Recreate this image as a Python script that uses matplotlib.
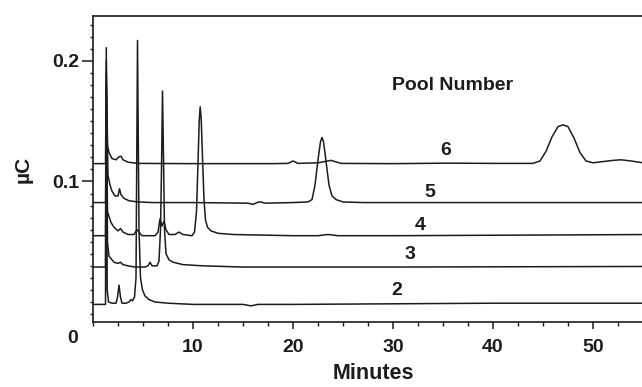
import matplotlib
matplotlib.use("Agg")
import matplotlib.pyplot as plt
from matplotlib.ticker import MultipleLocator, FixedLocator

plt.rcParams['font.family'] = ['Liberation Sans', 'DejaVu Sans']
plt.rcParams['font.weight'] = 'bold'

# ---- data (time in minutes, signal in µC) ----
t_pool2 = [0, 1.25, 1.33, 1.42, 1.55, 1.9, 2.3, 2.45, 2.6, 2.75, 2.9, 3.3, 3.6, 3.8, 3.95,
           4.15, 4.3, 4.45, 4.6, 4.75, 4.95, 5.2, 5.6, 6.2, 7.5, 10, 15, 15.8, 16.5, 20,
           30, 40, 50, 56]
y_pool2 = [-0.002, -0.002, 0.211, 0.010, 0.000, -0.001, -0.001, 0.004, 0.014, 0.004, -0.001,
           -0.001, 0.000, 0.002, 0.001, 0.004, 0.020, 0.217, 0.060, 0.020, 0.010, 0.005,
           0.002, 0.000, -0.001, -0.002, -0.002, -0.0032, -0.002, -0.002, -0.0015, -0.001,
           -0.001, -0.001]

t_pool3 = [0, 1.25, 1.33, 1.45, 1.6, 1.8, 2.1, 2.5, 2.75, 3.0, 3.5, 4.2, 5.2, 5.5, 5.7,
           5.9, 6.4, 6.6, 6.75, 6.85, 6.95, 7.05, 7.15, 7.3, 7.6, 8.0, 9.0, 11, 15, 20,
           30, 56]
y_pool3 = [0.029, 0.029, 0.190, 0.050, 0.038, 0.036, 0.033, 0.032, 0.033, 0.031, 0.030,
           0.029, 0.029, 0.030, 0.033, 0.030, 0.030, 0.034, 0.060, 0.110, 0.175, 0.120,
           0.060, 0.040, 0.035, 0.033, 0.031, 0.030, 0.029, 0.029, 0.029, 0.0295]

t_pool4 = [0, 1.25, 1.33, 1.45, 1.6, 1.8, 2.1, 2.5, 2.75, 3.0, 3.5, 4.1, 4.4, 4.6, 4.9,
           5.5, 6.2, 6.5, 6.7, 6.9, 7.1, 7.3, 7.6, 8.2, 8.6, 9.0, 9.9, 10.15, 10.35, 10.5,
           10.62, 10.72, 10.82, 10.95, 11.1, 11.25, 11.45, 11.8, 12.5, 14, 20, 22.5, 23.5,
           24.5, 30, 56]
y_pool4 = [0.055, 0.055, 0.170, 0.075, 0.071, 0.066, 0.062, 0.059, 0.061, 0.058, 0.056,
           0.056, 0.060, 0.058, 0.055, 0.055, 0.055, 0.058, 0.069, 0.063, 0.067, 0.060,
           0.056, 0.056, 0.058, 0.056, 0.055, 0.058, 0.075, 0.115, 0.150, 0.162, 0.152,
           0.120, 0.085, 0.068, 0.062, 0.059, 0.057, 0.056, 0.055, 0.055, 0.056, 0.055,
           0.055, 0.056]

t_pool5 = [0, 1.25, 1.33, 1.5, 1.7, 1.9, 2.2, 2.5, 2.65, 2.8, 3.1, 3.6, 4.5, 6, 10, 15.5,
           16.0, 16.5, 16.8, 17.2, 20, 21.5, 21.9, 22.2, 22.5, 22.75, 22.9, 23.05, 23.3,
           23.6, 23.9, 24.3, 25, 27, 56]
y_pool5 = [0.0825, 0.0825, 0.180, 0.105, 0.097, 0.092, 0.088, 0.088, 0.094, 0.089, 0.086,
           0.084, 0.083, 0.0825, 0.0825, 0.082, 0.081, 0.0828, 0.083, 0.082, 0.0825, 0.083,
           0.085, 0.097, 0.118, 0.133, 0.1365, 0.133, 0.117, 0.097, 0.088, 0.085, 0.083,
           0.0825, 0.0825]

t_pool6 = [0, 1.25, 1.33, 1.45, 1.6, 1.9, 2.3, 2.6, 2.8, 3.0, 3.5, 4.5, 10, 18, 19.5, 20.0,
           20.5, 22.5, 23.8, 24.8, 30, 35.5, 40, 44, 44.7, 45.3, 45.9, 46.5, 47.0, 47.5,
           48.1, 48.7, 49.3, 50, 51, 52, 52.8, 53.8, 55, 56]
y_pool6 = [0.1148, 0.1148, 0.200, 0.130, 0.124, 0.119, 0.118, 0.1205, 0.121, 0.118, 0.116,
           0.115, 0.1148, 0.1148, 0.115, 0.117, 0.115, 0.1155, 0.1175, 0.115, 0.1148,
           0.1152, 0.115, 0.115, 0.117, 0.125, 0.137, 0.1455, 0.147, 0.1455, 0.136, 0.124,
           0.117, 0.1155, 0.1165, 0.1175, 0.118, 0.117, 0.1155, 0.115]

pool_labels = ["2", "3", "4", "5", "6"]
label_t = [30.4, 31.7, 32.7, 33.7, 35.3]
label_y = [0.0094, 0.039, 0.0633, 0.0907, 0.1255]

x_major = [10, 20, 30, 40, 50]
y_major = [0.1, 0.2]
y_major_labels = ["0.1", "0.2"]

# ---- figure ----
fig = plt.figure(figsize=(6.42, 3.87), dpi=100)
ax = fig.add_axes([93 / 642, (387 - 322) / 387, 560 / 642, 306 / 387])

color = "#1c1c1c"
for tt, yy in [(t_pool2, y_pool2), (t_pool3, y_pool3), (t_pool4, y_pool4),
               (t_pool5, y_pool5), (t_pool6, y_pool6)]:
    ax.plot(tt, yy, color=color, lw=1.1, solid_joinstyle="round")

for lab, tx, ty in zip(pool_labels, label_t, label_y):
    ax.text(tx, ty, lab, fontsize=14, fontweight="bold", ha="center", va="center", color=color)

ax.text(36.0, 0.180, "Pool Number", fontsize=14, fontweight="bold", ha="center",
        va="center", color=color)

ax.set_xlim(0, 56)
ax.set_ylim(-0.0166, 0.2373)

ax.spines["right"].set_visible(False)
for s in ["left", "bottom", "top"]:
    ax.spines[s].set_linewidth(1.2)
    ax.spines[s].set_color(color)

ax.xaxis.set_major_locator(FixedLocator(x_major))
ax.xaxis.set_minor_locator(MultipleLocator(2.5))
ax.set_xticklabels([str(v) for v in x_major])
ax.yaxis.set_major_locator(FixedLocator(y_major))
ax.set_yticklabels(y_major_labels)
ax.yaxis.set_minor_locator(MultipleLocator(0.01))

ax.tick_params(axis="x", which="major", direction="out", length=5, width=1.1, pad=7,
               labelsize=14, colors=color)
ax.tick_params(axis="x", which="minor", direction="out", length=3, width=1.0, colors=color)
ax.tick_params(axis="y", which="major", direction="out", length=8, width=1.1, pad=2,
               labelsize=14, colors=color)
ax.tick_params(axis="y", which="minor", direction="out", length=2.5, width=1.0, colors=color)
ax.tick_params(top=False, right=False, which="both")

for lab in ax.get_xticklabels() + ax.get_yticklabels():
    lab.set_fontweight("bold")

ax.text(-2.0, -0.030, "0", fontsize=14, fontweight="bold", ha="center", va="center",
        color=color, clip_on=False)

ax.set_xlabel("Minutes", fontsize=15.5, fontweight="bold", color=color, labelpad=5)
ax.set_ylabel("µC", fontsize=15, fontweight="bold", color=color, labelpad=14)

fig.savefig("out.png", dpi=100)
